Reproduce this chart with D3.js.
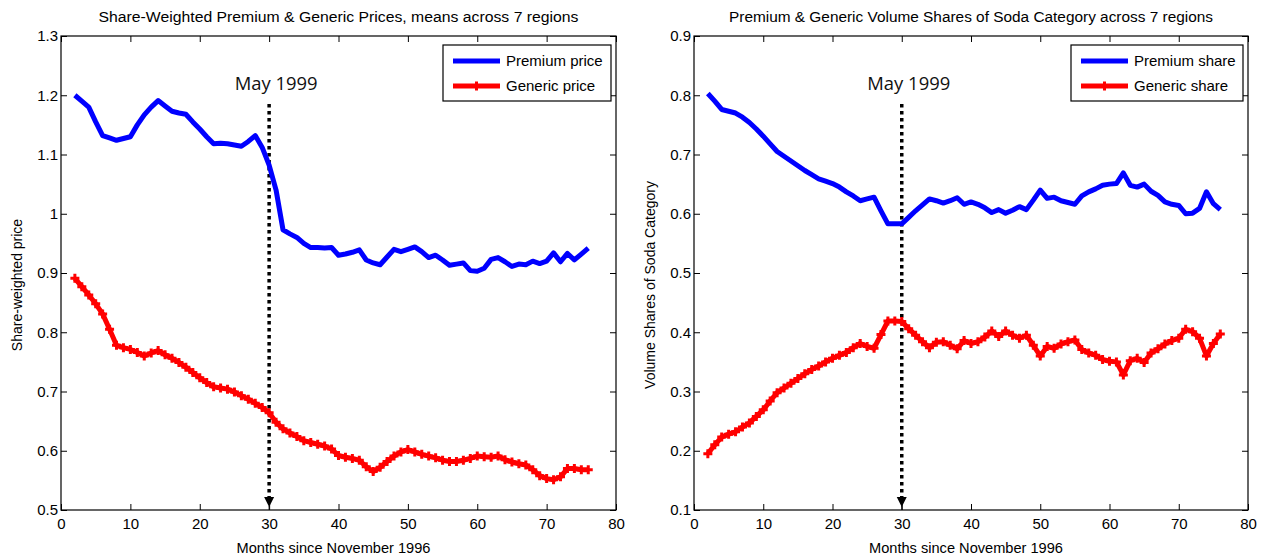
<!DOCTYPE html>
<html>
<head>
<meta charset="utf-8">
<script src="https://cdn.jsdelivr.net/npm/d3@7"></script>
<style>
  html, body { margin: 0; padding: 0; background: #fff; }
  svg { display: block; }
  text { font-family: "Liberation Sans", Arial, sans-serif; fill: #000; }
  text.event { font-family: "Open Sans", "Noto Sans", sans-serif; fill: #111; }
</style>
</head>
<body>
<svg id="chart" width="1268" height="559"></svg>
<script>
// Months since November 1996
const months = [2,3,4,5,6,7,8,9,10,11,12,13,14,15,16,17,18,19,20,21,22,23,24,25,26,27,28,29,30,31,32,33,34,35,36,37,38,39,40,41,42,43,44,45,46,47,48,49,50,51,52,53,54,55,56,57,58,59,60,61,62,63,64,65,66,67,68,69,70,71,72,73,74,75,76];

// Share-weighted mean prices across 7 regions
const premiumPrice = [1.200,1.190,1.180,1.155,1.132,1.128,1.124,1.127,1.130,1.150,1.167,1.180,1.191,1.182,1.173,1.170,1.168,1.155,1.143,1.130,1.118,1.119,1.118,1.116,1.114,1.122,1.132,1.112,1.082,1.040,0.973,0.966,0.960,0.950,0.943,0.943,0.942,0.943,0.930,0.932,0.935,0.939,0.922,0.917,0.914,0.927,0.940,0.936,0.940,0.944,0.936,0.926,0.930,0.922,0.913,0.915,0.917,0.904,0.903,0.908,0.923,0.926,0.919,0.911,0.915,0.914,0.920,0.916,0.920,0.934,0.919,0.933,0.922,0.932,0.942];
const genericPrice = [0.891,0.877,0.863,0.848,0.831,0.805,0.778,0.774,0.771,0.766,0.760,0.765,0.769,0.762,0.756,0.749,0.741,0.732,0.723,0.715,0.708,0.706,0.704,0.699,0.693,0.687,0.680,0.673,0.664,0.648,0.637,0.630,0.624,0.617,0.614,0.611,0.608,0.603,0.592,0.589,0.587,0.584,0.573,0.565,0.572,0.582,0.591,0.598,0.602,0.598,0.594,0.591,0.588,0.584,0.582,0.582,0.584,0.587,0.591,0.590,0.589,0.591,0.585,0.581,0.578,0.576,0.568,0.558,0.553,0.551,0.556,0.570,0.570,0.568,0.568];

// Volume shares of the soda category
const premiumShare = [0.803,0.790,0.776,0.773,0.770,0.763,0.754,0.743,0.731,0.718,0.705,0.697,0.689,0.681,0.673,0.666,0.659,0.655,0.651,0.645,0.637,0.630,0.622,0.625,0.628,0.605,0.583,0.583,0.583,0.594,0.605,0.615,0.625,0.622,0.618,0.622,0.627,0.616,0.620,0.616,0.610,0.602,0.607,0.601,0.606,0.612,0.607,0.623,0.640,0.626,0.628,0.622,0.619,0.616,0.630,0.637,0.642,0.648,0.650,0.651,0.669,0.648,0.645,0.650,0.638,0.631,0.620,0.616,0.614,0.600,0.601,0.609,0.637,0.617,0.607];
const genericShare = [0.195,0.210,0.223,0.228,0.232,0.240,0.247,0.258,0.269,0.284,0.298,0.306,0.314,0.322,0.330,0.337,0.343,0.350,0.356,0.361,0.366,0.374,0.381,0.376,0.373,0.396,0.419,0.419,0.418,0.406,0.395,0.384,0.374,0.383,0.384,0.378,0.372,0.386,0.381,0.384,0.392,0.402,0.393,0.402,0.395,0.390,0.395,0.378,0.360,0.376,0.373,0.380,0.384,0.387,0.371,0.365,0.361,0.354,0.351,0.350,0.328,0.352,0.356,0.349,0.365,0.372,0.380,0.386,0.390,0.405,0.401,0.390,0.360,0.381,0.397];

// Axis ticks and annotation
const monthTicks = [0,10,20,30,40,50,60,70,80];
const priceTicks = [0.5,0.6,0.7,0.8,0.9,1,1.1,1.2,1.3];
const shareTicks = [0.1,0.2,0.3,0.4,0.5,0.6,0.7,0.8,0.9];
const eventMonth = 30;
const eventLabel = "May 1999";

const svg = d3.select("#chart");
const BLUE = "#0000ff", RED = "#ff0000";

function drawPanel(cfg) {
  const { left, right, top, bottom } = cfg;
  const g = svg.append("g");
  const x = d3.scaleLinear().domain([0, 80]).range([left, right]);
  const y = d3.scaleLinear().domain(cfg.yDomain).range([bottom, top]);
  const tick = 6;

  // bottom axis with labels, ticks pointing inward
  const bx = g.append("g").attr("transform", `translate(0,${bottom})`)
    .call(d3.axisBottom(x).tickValues(monthTicks).tickSizeInner(-tick).tickSizeOuter(0).tickPadding(6).tickFormat(d3.format("d")));
  // top axis, ticks only
  g.append("g").attr("transform", `translate(0,${top})`)
    .call(d3.axisTop(x).tickValues(monthTicks).tickSizeInner(-tick).tickSizeOuter(0).tickFormat(""));
  // left axis with labels
  g.append("g").attr("transform", `translate(${left},0)`)
    .call(d3.axisLeft(y).tickValues(cfg.yTicks).tickSizeInner(-tick).tickSizeOuter(0).tickPadding(3).tickFormat(d => String(d)));
  // right axis, ticks only
  g.append("g").attr("transform", `translate(${right},0)`)
    .call(d3.axisRight(y).tickValues(cfg.yTicks).tickSizeInner(-tick).tickSizeOuter(0).tickFormat(""));

  g.selectAll(".domain").remove();
  g.selectAll(".tick line").attr("stroke", "#000").attr("stroke-width", 1);
  g.selectAll(".tick text").attr("font-size", 15).attr("fill", "#000");
  bx.selectAll(".tick text").attr("dy", "0.85em");

  // plot box
  g.append("rect").attr("x", left).attr("y", top)
    .attr("width", right - left).attr("height", bottom - top)
    .attr("fill", "none").attr("stroke", "#000").attr("stroke-width", 1.2);

  // event marker: dotted drop line with arrowhead
  const ex = x(eventMonth);
  g.append("line").attr("x1", ex).attr("x2", ex).attr("y1", 104).attr("y2", bottom - 13)
    .attr("stroke", "#000").attr("stroke-width", 3.5).attr("stroke-dasharray", "3.5,3.5");
  g.append("path").attr("d", `M${ex - 5},${bottom - 13} L${ex + 5},${bottom - 13} L${ex},${bottom - 3} Z`).attr("fill", "#000");
  g.append("line").attr("x1", ex).attr("x2", ex).attr("y1", bottom - 4).attr("y2", bottom).attr("stroke", "#000").attr("stroke-width", 1);
  g.append("text").attr("class", "event").attr("x", ex + 7).attr("y", 90).attr("text-anchor", "middle")
    .attr("font-size", 18).attr("textLength", 83).attr("lengthAdjust", "spacingAndGlyphs").text(eventLabel);

  const line = d3.line().x(d => x(d[0])).y(d => y(d[1]));
  const prem = months.map((m, i) => [m, cfg.premium[i]]);
  const gen = months.map((m, i) => [m, cfg.generic[i]]);

  g.append("path").datum(prem).attr("d", line).attr("fill", "none")
    .attr("stroke", BLUE).attr("stroke-width", 5).attr("stroke-linejoin", "round");
  g.append("path").datum(gen).attr("d", line).attr("fill", "none")
    .attr("stroke", RED).attr("stroke-width", 5).attr("stroke-linejoin", "round");
  const ms = 4.5;
  g.append("g").selectAll("path").data(gen).join("path")
    .attr("d", d => `M${x(d[0]) - ms},${y(d[1])}H${x(d[0]) + ms}M${x(d[0])},${y(d[1]) - ms}V${y(d[1]) + ms}`)
    .attr("stroke", RED).attr("stroke-width", 3).attr("fill", "none");

  // titles and axis labels
  g.append("text").attr("x", (left + right) / 2).attr("y", 22).attr("text-anchor", "middle")
    .attr("font-size", 14).attr("textLength", cfg.titleWidth).attr("lengthAdjust", "spacingAndGlyphs").text(cfg.title);
  g.append("text").attr("x", (left + right) / 2 - 5).attr("y", 553).attr("text-anchor", "middle")
    .attr("font-size", 14).attr("textLength", 194).attr("lengthAdjust", "spacingAndGlyphs").text("Months since November 1996");
  g.append("text").attr("transform", `translate(${left - 39},${(top + bottom) / 2 + 12}) rotate(-90)`)
    .attr("text-anchor", "middle").attr("font-size", 14).text(cfg.yLabel);

  // legend
  const lg = g.append("g").attr("transform", `translate(${cfg.legendX},45)`);
  lg.append("rect").attr("width", cfg.legendW).attr("height", 56).attr("fill", "#fff").attr("stroke", "#000").attr("stroke-width", 1.2);
  lg.append("line").attr("x1", 10).attr("x2", 57).attr("y1", 16).attr("y2", 16).attr("stroke", BLUE).attr("stroke-width", 5);
  lg.append("line").attr("x1", 10).attr("x2", 57).attr("y1", 41).attr("y2", 41).attr("stroke", RED).attr("stroke-width", 5);
  lg.append("path").attr("d", "M29.5,41H37.5M33.5,36.5V45.5").attr("stroke", RED).attr("stroke-width", 3);
  lg.append("text").attr("x", 63).attr("y", 21).attr("font-size", 15).text(cfg.legend[0]);
  lg.append("text").attr("x", 63).attr("y", 46).attr("font-size", 15).text(cfg.legend[1]);
}

drawPanel({
  left: 61, right: 616, top: 36, bottom: 510,
  yDomain: [0.5, 1.3], yTicks: priceTicks,
  premium: premiumPrice, generic: genericPrice,
  title: "Share-Weighted Premium & Generic Prices, means across 7 regions", titleWidth: 480,
  yLabel: "Share-weighted price",
  legendX: 443, legendW: 168,
  legend: ["Premium price", "Generic price"]
});

drawPanel({
  left: 694, right: 1248, top: 36, bottom: 510,
  yDomain: [0.1, 0.9], yTicks: shareTicks,
  premium: premiumShare, generic: genericShare,
  title: "Premium & Generic Volume Shares of Soda Category across 7 regions", titleWidth: 484,
  yLabel: "Volume Shares of Soda Category",
  legendX: 1071, legendW: 172,
  legend: ["Premium share", "Generic share"]
});
</script>
</body>
</html>
